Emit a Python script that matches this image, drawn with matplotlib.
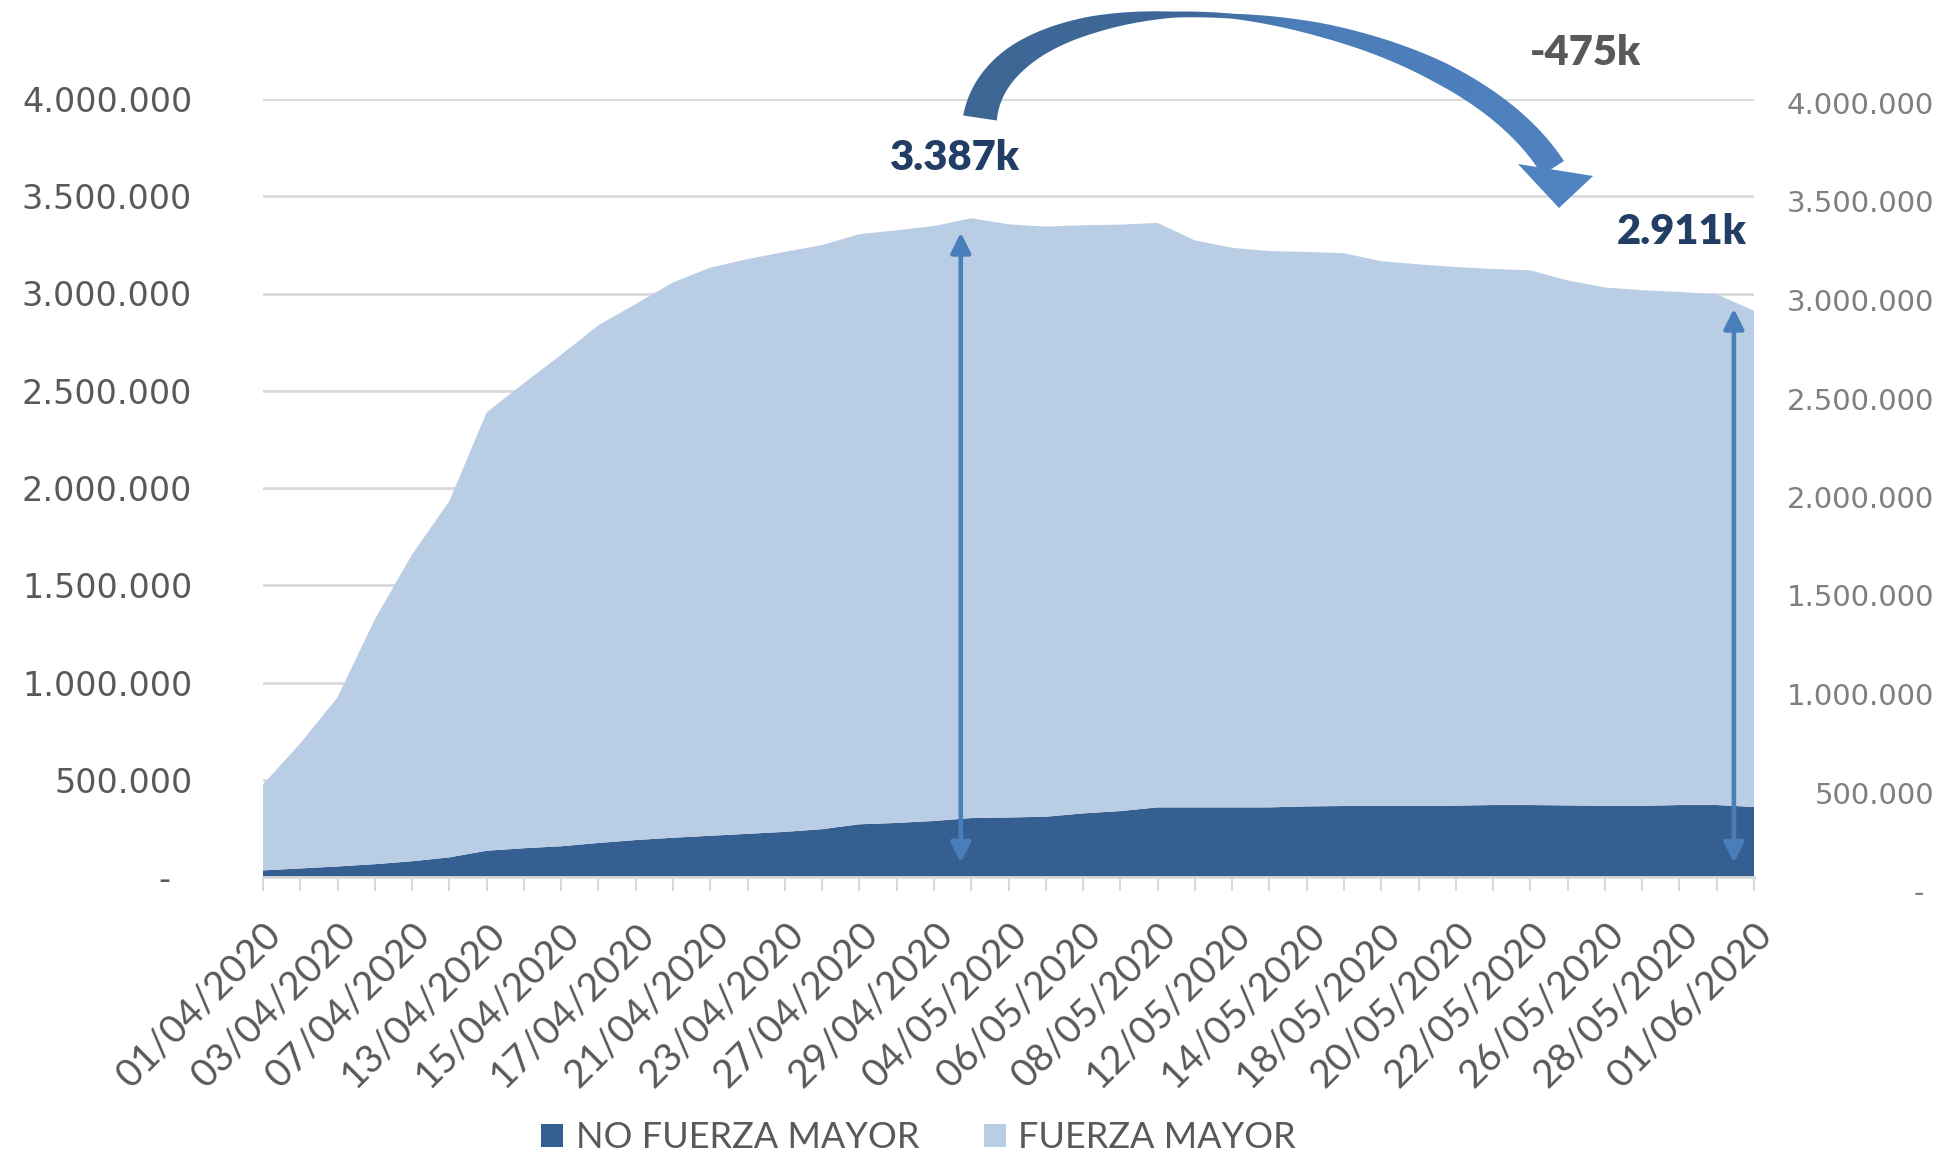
import matplotlib
matplotlib.use("Agg")
import matplotlib.pyplot as plt
import numpy as np
from matplotlib.patches import Patch, Polygon
from matplotlib.colors import LinearSegmentedColormap

# business days, 01/04/2020 - 01/06/2020
dates = ['01/04/2020', '02/04/2020', '03/04/2020', '06/04/2020', '07/04/2020', '08/04/2020',
         '13/04/2020', '14/04/2020', '15/04/2020', '16/04/2020', '17/04/2020',
         '20/04/2020', '21/04/2020', '22/04/2020', '23/04/2020', '24/04/2020',
         '27/04/2020', '28/04/2020', '29/04/2020', '30/04/2020',
         '04/05/2020', '05/05/2020', '06/05/2020', '07/05/2020', '08/05/2020',
         '11/05/2020', '12/05/2020', '13/05/2020', '14/05/2020', '15/05/2020',
         '18/05/2020', '19/05/2020', '20/05/2020', '21/05/2020', '22/05/2020',
         '25/05/2020', '26/05/2020', '27/05/2020', '28/05/2020', '29/05/2020',
         '01/06/2020']

# thousands of workers
no_fuerza_mayor = [34, 44, 54, 66, 81, 101, 135, 148, 158, 175, 190, 202, 212, 222, 232, 246,
                   271, 278, 288, 303, 306, 310, 327, 339, 358, 358, 358, 358, 363, 365, 365,
                   365, 367, 370, 370, 368, 366, 366, 370, 370, 360]
fuerza_mayor = [442, 643, 870, 1259, 1577, 1832, 2254, 2391, 2527, 2662, 2756, 2855, 2921, 2955,
                2982, 3003, 3034, 3047, 3059, 3084, 3050, 3034, 3024, 3015, 3005, 2915, 2877,
                2860, 2851, 2842, 2801, 2785, 2769, 2756, 2749, 2699, 2665, 2651, 2638, 2626, 2551]

series_names = ['NO FUERZA MAYOR', 'FUERZA MAYOR']
peak_label = '3.387k'
last_label = '2.911k'
diff_label = '-475k'

y_ticks = [0, 500000, 1000000, 1500000, 2000000, 2500000, 3000000, 3500000, 4000000]

dark = '#365F91'
light = '#B9CDE5'
grid_c = '#D9D9D9'
txt_c = '#595959'
arrow_c = '#4A7EBB'

W, H = 1946, 1160
fig = plt.figure(figsize=(W / 100, H / 100), dpi=100)
ax = fig.add_axes([263 / W, 283 / H, (1754 - 263) / W, (877 - 99) / H])

x = np.arange(len(dates))
nfm = np.array(no_fuerza_mayor) * 1000
fm = np.array(fuerza_mayor) * 1000
total = nfm + fm

ax.stackplot(x, nfm, fm, colors=[dark, light], linewidth=0, zorder=2)

ax.set_xlim(0, len(dates) - 1)
ax.set_ylim(0, 4000000)
ax.set_axisbelow(True)
ax.grid(axis='y', color=grid_c, linewidth=2)
ax.grid(axis='x', visible=False)
for s in ['top', 'left', 'right']:
    ax.spines[s].set_visible(False)
ax.spines['bottom'].set_color(grid_c)
ax.spines['bottom'].set_linewidth(2)
ax.spines['bottom'].set_zorder(3)

def fmt(v):
    return '{:,}'.format(int(v)).replace(',', '.')

ax.set_yticks(y_ticks, ['-  '] + [fmt(v) for v in y_ticks[1:]])
ax.tick_params(axis='y', length=0, pad=51, labelsize=24, labelcolor=txt_c)
for lbl in ax.get_yticklabels():
    lbl.set_fontfamily('DejaVu Sans')

xlabels = [d if i % 2 == 0 else '' for i, d in enumerate(dates)]
ax.set_xticks(x)
ax.set_xticklabels(xlabels, rotation=45, ha='right', va='top', rotation_mode='anchor',
                   fontfamily='Lato', fontsize=28, color=txt_c)
ax.tick_params(axis='x', length=10, width=1.5, color=grid_c, pad=18)

# secondary scale on the right, drawn a little lower as in the original
ax2 = fig.add_axes([263 / W, (H - 891) / H, (1754 - 263) / W, (891 - 103) / H])
ax2.patch.set_alpha(0)
ax2.set_ylim(0, 4000000)
ax2.set_xticks([])
ax2.yaxis.tick_right()
ax2.set_yticks(y_ticks, ['- '] + [fmt(v) for v in y_ticks[1:]], ha='right')
ax2.tick_params(axis='y', length=0, pad=129.6, labelsize=21, labelcolor='#7F7F7F')
for s in ax2.spines.values():
    s.set_visible(False)

# vertical double arrows: peak and last day
i_peak = int(np.argmax(total))
i_last = len(dates) - 1
for xi, top in [(i_peak - 0.28, total[i_peak] - 74000), (i_last - 0.54, total[i_last] + 11000)]:
    ax.annotate('', xy=(xi, top), xytext=(xi, 73000),
                arrowprops=dict(arrowstyle='<|-|>,head_width=0.3,head_length=0.6',
                                mutation_scale=20, color=arrow_c, lw=3.3,
                                shrinkA=0, shrinkB=0), zorder=4)

# overlay in pixel coordinates for the curved arrow and labels
ov = fig.add_axes([0, 0, 1, 1], zorder=5)
ov.patch.set_alpha(0)
ov.axis('off')

P = np.array([[980, 118], [1004, -42], [1440, -10], [1553, 168]], dtype=float)
t = np.linspace(0, 1, 300)[:, None]
B = (1 - t) ** 3 * P[0] + 3 * (1 - t) ** 2 * t * P[1] + 3 * (1 - t) * t ** 2 * P[2] + t ** 3 * P[3]
dB = 3 * (1 - t) ** 2 * (P[1] - P[0]) + 6 * (1 - t) * t * (P[2] - P[1]) + 3 * t ** 2 * (P[3] - P[2])
nrm = np.stack([-dB[:, 1], dB[:, 0]], axis=1)
nrm /= np.linalg.norm(nrm, axis=1)[:, None]
wd = np.interp(t[:, 0], [0, 0.15, 0.3, 0.42, 0.5, 0.62, 0.78, 1], [34, 27, 17, 6, 5, 14, 22, 26])
band = np.vstack([B + nrm * wd[:, None] / 2, (B - nrm * wd[:, None] / 2)[::-1]])
band_patch = Polygon(band, closed=True, facecolor='none', edgecolor='none')
ov.add_patch(band_patch)
cm = LinearSegmentedColormap.from_list('arr', [(0, '#3E6695'), (0.38, '#3F6898'),
                                               (0.53, '#4B7DB8'), (1, '#4F82C0')])
grad = np.linspace(0, 1, 256)[None, :]
im = ov.imshow(grad, cmap=cm, extent=(940, 1600, 220, 0), aspect='auto', zorder=5)
im.set_clip_path(band_patch)
ov.add_patch(Polygon([[1518, 164], [1593, 176], [1559, 208]], closed=True,
                     facecolor='#4F82C0', edgecolor='none', zorder=6))
ov.set_xlim(0, W)
ov.set_ylim(H, 0)

ov.text(955, 158, peak_label, ha='center', va='center', fontfamily='Lato',
        fontweight='heavy', fontsize=30, color='#233E64')
ov.text(1682, 232, last_label, ha='center', va='center', fontfamily='Lato',
        fontweight='heavy', fontsize=30, color='#233E64')
ov.text(1586, 53, diff_label, ha='center', va='center', fontfamily='Lato',
        fontweight='heavy', fontsize=30, color=txt_c)

handles = [Patch(facecolor=dark, label=series_names[0]),
           Patch(facecolor=light, label=series_names[1])]
fig.legend(handles=handles, loc='center', bbox_to_anchor=(0.472, 0.019), ncol=2,
           frameon=False, handlelength=0.6, handleheight=0.6, handletextpad=0.35,
           columnspacing=1.8, labelcolor=txt_c, prop={'family': 'Lato', 'size': 26})

fig.savefig('out.png', dpi=100)
